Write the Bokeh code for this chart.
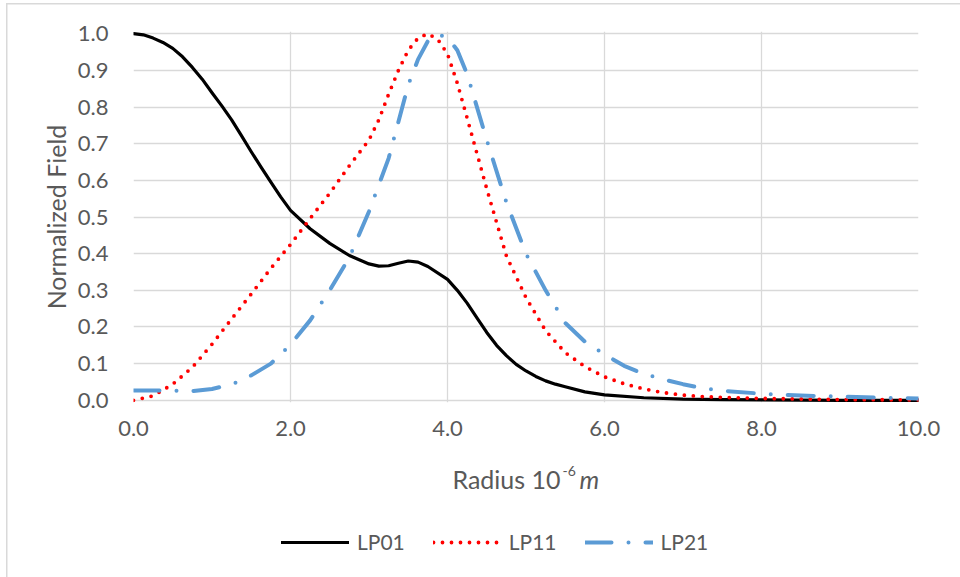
from bokeh.plotting import figure
from bokeh.layouts import column
from bokeh.models import Range1d, FixedTicker, NumeralTickFormatter, Label
from bokeh.embed import file_html
from bokeh.resources import INLINE

# ---- data ----
x_lp01 = [0.0, 0.125, 0.25, 0.375, 0.5, 0.625, 0.75, 0.875, 1.0, 1.125, 1.25, 1.375, 1.5, 1.625, 1.75, 1.875,
          2.0, 2.25, 2.5, 2.75, 3.0, 3.125, 3.25, 3.375, 3.5, 3.625, 3.75, 4.0, 4.125, 4.25, 4.375, 4.5, 4.625,
          4.75, 4.875, 5.0, 5.125, 5.25, 5.375, 5.5, 5.75, 6.0, 6.5, 7.0, 7.5, 8.0, 9.0, 10.0]
y_lp01 = [1.0, 0.997, 0.988, 0.976, 0.96, 0.937, 0.908, 0.876, 0.839, 0.803, 0.765, 0.722, 0.678, 0.636, 0.595, 0.555,
          0.518, 0.468, 0.428, 0.395, 0.372, 0.366, 0.367, 0.374, 0.38, 0.377, 0.365, 0.33, 0.3, 0.265, 0.225, 0.185, 0.15,
          0.122, 0.098, 0.08, 0.065, 0.053, 0.044, 0.037, 0.023, 0.015, 0.007, 0.003, 0.002, 0.001, 0.0, 0.0]

x_lp11 = [0.0, 0.25, 0.5, 0.75, 1.0, 1.25, 1.5, 1.75, 2.0, 2.25, 2.5, 2.75, 3.0, 3.125, 3.25, 3.375, 3.5, 3.625,
          3.75, 3.875, 4.0, 4.125, 4.25, 4.5, 4.75, 5.0, 5.25, 5.5, 5.75, 6.0, 6.25, 6.5, 6.75, 7.0, 7.25, 7.5, 8.0, 9.0, 10.0]
y_lp11 = [0.0, 0.012, 0.044, 0.09, 0.153, 0.222, 0.29, 0.36, 0.425, 0.496, 0.565, 0.64, 0.71, 0.765, 0.835, 0.9, 0.955, 0.988,
          1.0, 0.985, 0.945, 0.865, 0.77, 0.577, 0.394, 0.28, 0.19, 0.13, 0.092, 0.064, 0.045, 0.031, 0.021, 0.014, 0.01, 0.008, 0.005, 0.002, 0.001]

x_lp21 = [0.0, 0.25, 0.5, 0.75, 1.0, 1.25, 1.5, 1.75, 2.0, 2.25, 2.5, 2.75, 3.0, 3.25, 3.5, 3.625, 3.75, 3.875,
          4.0, 4.125, 4.25, 4.5, 4.75, 5.0, 5.25, 5.5, 5.75, 6.0, 6.25, 6.5, 6.75, 7.0, 7.25, 7.5, 8.0, 8.5, 9.0, 9.5, 10.0]
y_lp21 = [0.027, 0.027, 0.026, 0.025, 0.031, 0.043, 0.068, 0.1, 0.152, 0.218, 0.3, 0.39, 0.515, 0.66, 0.86, 0.93, 0.98, 0.998,
          0.99, 0.955, 0.89, 0.71, 0.54, 0.4, 0.3, 0.211, 0.16, 0.125, 0.094, 0.072, 0.057, 0.044, 0.033, 0.026, 0.018, 0.013, 0.01, 0.007, 0.005]

series_names = ["LP01", "LP11", "LP21"]
x_ticks = [0, 2, 4, 6, 8, 10]
y_ticks = [0.0, 0.1, 0.2, 0.3, 0.4, 0.5, 0.6, 0.7, 0.8, 0.9, 1.0]
y_title = "Normalized Field"
x_title_parts = ["Radius 10", "-6", "m"]

FONT = "Lato"
TXT = "#595959"
GRID = "#D9D9D9"
STYLES = [
    dict(line_color="black", line_width=3.2, line_cap="round", line_join="round"),
    dict(line_color="#FF0000", line_width=3.8, line_dash="0 9", line_cap="round", line_join="round"),
    dict(line_color="#5B9BD5", line_width=4, line_dash="26 17 0 17", line_cap="round", line_join="round"),
]

W = 960
H1 = 450
H2 = 577 - H1
FL, FR = 133, 918          # frame left / right on the page

# ---------------- main chart ----------------
p = figure(width=W, height=H1, output_backend="svg", toolbar_location=None,
           x_range=Range1d(0, 10), y_range=Range1d(-0.006, 1.006),
           min_border_left=FL, min_border_right=W - FR, min_border_top=31, min_border_bottom=H1 - 402,
           background_fill_color="white", border_fill_color=None)
p.outline_line_color = None

p.xgrid.ticker = FixedTicker(ticks=x_ticks)
p.ygrid.ticker = FixedTicker(ticks=y_ticks)
for g in (p.xgrid[0], p.ygrid[0]):
    g.grid_line_color = GRID
    g.grid_line_width = 1.3

p.xaxis.ticker = FixedTicker(ticks=x_ticks)
p.yaxis.ticker = FixedTicker(ticks=y_ticks)
p.xaxis.formatter = NumeralTickFormatter(format="0.0")
p.yaxis.formatter = NumeralTickFormatter(format="0.0")
for ax in (p.xaxis[0], p.yaxis[0]):
    ax.axis_line_color = None
    ax.major_tick_line_color = None
    ax.minor_tick_line_color = None
    ax.major_label_text_font = FONT
    ax.major_label_text_font_size = "22px"
    ax.major_label_text_color = TXT
p.xaxis.major_label_standoff = 12
p.yaxis.major_label_standoff = 19
p.yaxis.axis_label = y_title
p.yaxis.axis_label_text_font = FONT
p.yaxis.axis_label_text_font_size = "25px"
p.yaxis.axis_label_text_font_style = "normal"
p.yaxis.axis_label_text_color = TXT
p.yaxis.axis_label_standoff = 4

for xs, ys, st in zip([x_lp01, x_lp11, x_lp21], [y_lp01, y_lp11, y_lp21], STYLES):
    p.line(xs, ys, **st)

# ---------------- axis title + legend strip ----------------
# frame aligned with the chart's frame; data units equal page pixels
q = figure(width=W, height=H2, output_backend="svg", toolbar_location=None,
           x_range=Range1d(FL, FR), y_range=Range1d(577, H1),
           x_axis_location=None, y_axis_location=None,
           min_border_left=FL, min_border_right=W - FR, min_border_top=0, min_border_bottom=0,
           background_fill_color=None, border_fill_color=None)
q.outline_line_color = None
q.xgrid.visible = False
q.ygrid.visible = False

lab_kw = dict(text_font=FONT, text_color=TXT, text_baseline="alphabetic")
q.add_layout(Label(x=560, y=478, text=x_title_parts[0], text_align="right", text_font_size="25px", **lab_kw))
q.add_layout(Label(x=562, y=470, text=x_title_parts[1], text_align="left", text_font_size="14px", **lab_kw))
q.add_layout(Label(x=579, y=478, text=x_title_parts[2], text_align="left", text_font_size="25px",
                   text_font_style="italic", **lab_kw))

# legend samples: renderers with no visible points, same styles as the curves
nan = float("nan")
for name, st in zip(series_names, STYLES):
    q.line(x=[nan, nan], y=[nan, nan], legend_label=name, **st)

lg = q.legend[0]
lg.orientation = "horizontal"
lg.location = (281 - FL, 23)
lg.padding = 0
lg.margin = 0
lg.spacing = 28
lg.glyph_width = 68
lg.label_standoff = 8
lg.border_line_color = None
lg.background_fill_alpha = 0
lg.label_text_font = FONT
lg.label_text_font_size = "21px"
lg.label_text_color = TXT

layout = column(p, q, spacing=0)
layout.styles = {"background-color": "white",
                 "box-shadow": "inset 6px 3px 0 0 white, inset 7.5px 4.5px 0 0 #D9D9D9"}

open("out.html", "w").write(file_html(layout, INLINE))
